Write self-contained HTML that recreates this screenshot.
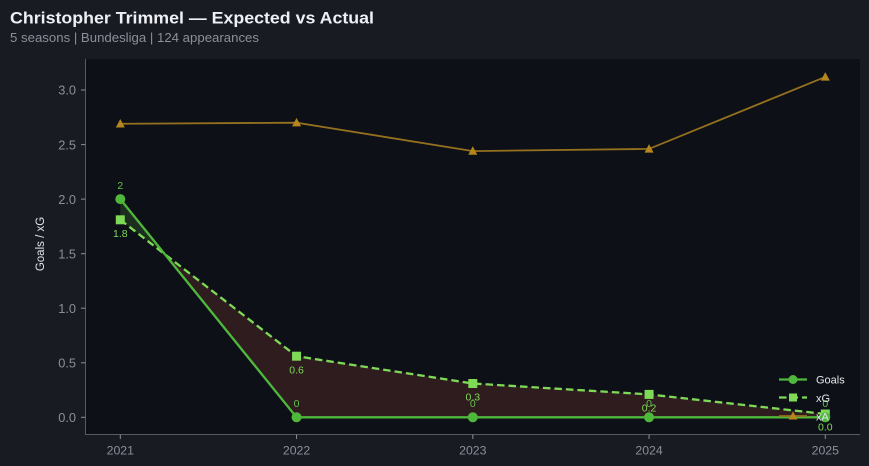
<!DOCTYPE html>
<html><head><meta charset="utf-8"><style>
html,body{margin:0;padding:0;background:#181b22;}
svg{display:block;}
text{font-family:"Liberation Sans",sans-serif;}
</style></head><body>
<svg width="869" height="466" viewBox="0 0 869 466" xmlns="http://www.w3.org/2000/svg">
<rect x="0" y="0" width="869" height="466" fill="#181b22"/>
<text x="10" y="23.5" font-size="16.5" font-weight="bold" fill="#eef0f5" textLength="364" lengthAdjust="spacingAndGlyphs">Christopher Trimmel — Expected vs Actual</text>
<text x="10" y="42" font-size="12.8" fill="#8b8f99" textLength="249" lengthAdjust="spacingAndGlyphs">5 seasons | Bundesliga | 124 appearances</text>
<!-- plot area -->
<rect x="85.5" y="59" width="774.5" height="375" fill="#0d1016"/>
<!-- spines -->
<line x1="85.5" y1="59" x2="85.5" y2="434.5" stroke="#555a64" stroke-width="1"/>
<line x1="85" y1="434.5" x2="860" y2="434.5" stroke="#555a64" stroke-width="1"/>
<!-- ticks -->
<g stroke="#8b8f99" stroke-width="1">
<line x1="81" x2="85.5" y1="417.3" y2="417.3"/>
<line x1="81" x2="85.5" y1="362.8" y2="362.8"/>
<line x1="81" x2="85.5" y1="308.2" y2="308.2"/>
<line x1="81" x2="85.5" y1="253.7" y2="253.7"/>
<line x1="81" x2="85.5" y1="199.1" y2="199.1"/>
<line x1="81" x2="85.5" y1="144.6" y2="144.6"/>
<line x1="81" x2="85.5" y1="90" y2="90"/>
<line x1="120.3" x2="120.3" y1="434.5" y2="439"/>
<line x1="296.55" x2="296.55" y1="434.5" y2="439"/>
<line x1="472.8" x2="472.8" y1="434.5" y2="439"/>
<line x1="649.05" x2="649.05" y1="434.5" y2="439"/>
<line x1="825.3" x2="825.3" y1="434.5" y2="439"/>
</g>
<g font-size="12.8" fill="#8b8f99" text-anchor="end">
<text x="76" y="422">0.0</text>
<text x="76" y="367.5">0.5</text>
<text x="76" y="312.9">1.0</text>
<text x="76" y="258.4">1.5</text>
<text x="76" y="203.8">2.0</text>
<text x="76" y="149.3">2.5</text>
<text x="76" y="94.7">3.0</text>
</g>
<g font-size="12.3" fill="#8b8f99" text-anchor="middle">
<text x="120.3" y="454.5">2021</text>
<text x="296.55" y="454.5">2022</text>
<text x="472.8" y="454.5">2023</text>
<text x="649.05" y="454.5">2024</text>
<text x="825.3" y="454.5">2025</text>
</g>
<text transform="translate(44,244) rotate(-90)" font-size="11.5" fill="#e2e4e8" text-anchor="middle">Goals / xG</text>
<!-- fills -->
<polygon points="120.3,199.1 164.9,254.3 120.3,219.8" fill="#1c2e1e"/>
<polygon points="164.9,254.3 296.55,356.2 472.8,383.5 649.05,394.4 825.3,414 825.3,417.3 649.05,417.3 472.8,417.3 296.55,417.3" fill="#2f1c1f"/>
<!-- xA -->
<polyline points="120.3,123.8 296.55,122.7 472.8,151.1 649.05,148.9 825.3,76.9" fill="none" stroke="#94701f" stroke-width="1.8"/>
<g fill="#b5861c">
<polygon points="120.3,119 124.8,127.5 115.8,127.5"/>
<polygon points="296.55,117.9 301.05,126.4 292.05,126.4"/>
<polygon points="472.8,146.3 477.3,154.8 468.3,154.8"/>
<polygon points="649.05,144.1 653.55,152.6 644.55,152.6"/>
<polygon points="825.3,72.1 829.8,80.6 820.8,80.6"/>
</g>
<!-- xG -->
<polyline points="120.3,219.8 296.55,356.2 472.8,383.5 649.05,394.4 825.3,414" fill="none" stroke="#7ed957" stroke-width="2.3" stroke-dasharray="7.5,4"/>
<g fill="#7ed957">
<rect x="115.8" y="215.3" width="9" height="9"/>
<rect x="292.05" y="351.7" width="9" height="9"/>
<rect x="468.3" y="379" width="9" height="9"/>
<rect x="644.55" y="389.9" width="9" height="9"/>
<rect x="820.8" y="409.5" width="9" height="9"/>
</g>
<!-- Goals -->
<polyline points="120.3,199.1 296.55,417.3 472.8,417.3 649.05,417.3 825.3,417.3" fill="none" stroke="#4fb83c" stroke-width="2.3"/>
<g fill="#4fb83c">
<circle cx="120.3" cy="199.1" r="5"/>
<circle cx="296.55" cy="417.3" r="5"/>
<circle cx="472.8" cy="417.3" r="5"/>
<circle cx="649.05" cy="417.3" r="5"/>
<circle cx="825.3" cy="417.3" r="5"/>
</g>
<!-- labels -->
<g font-size="10.5" text-anchor="middle" fill="#5fc24a">
<text x="120.3" y="189">2</text>
<text x="296.55" y="407.2">0</text>
<text x="472.8" y="407.2">0</text>
<text x="649.05" y="407.2">0</text>
<text x="825.3" y="407.2">0</text>
</g>
<g font-size="10.5" text-anchor="middle" fill="#7ed957">
<text x="120.3" y="237">1.8</text>
<text x="296.55" y="373.5">0.6</text>
<text x="472.8" y="400.5">0.3</text>
<text x="649.05" y="411.5">0.2</text>
<text x="825.3" y="430.5">0.0</text>
</g>
<!-- legend -->
<line x1="779" x2="807" y1="379.5" y2="379.5" stroke="#4fb83c" stroke-width="2.3"/>
<circle cx="793" cy="379.5" r="4.5" fill="#4fb83c"/>
<line x1="779" x2="807" y1="397.5" y2="397.5" stroke="#7ed957" stroke-width="2.3" stroke-dasharray="7.5,4"/>
<rect x="789" y="393.5" width="8" height="8" fill="#7ed957"/>
<line x1="779" x2="807" y1="416" y2="416" stroke="#94701f" stroke-width="1.8"/>
<polygon points="793,411.5 797.5,419.5 788.5,419.5" fill="#b5861c"/>
<g font-size="11" fill="#e6e8ec">
<text x="816" y="383.5">Goals</text>
<text x="816" y="402">xG</text>
<text x="816" y="420.5">xA</text>
</g>
</svg>
</body></html>
